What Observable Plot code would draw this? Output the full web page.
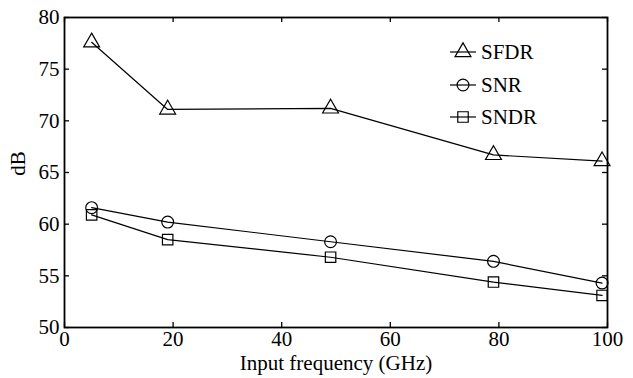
<!DOCTYPE html>
<html>
<head>
<meta charset="utf-8">
<script src="https://cdn.jsdelivr.net/npm/d3@7"></script>
<script src="https://cdn.jsdelivr.net/npm/@observablehq/plot@0.6"></script>
<style>
  html, body { margin: 0; padding: 0; background: #fff; font-family: "Liberation Serif", Tinos, "Times New Roman", FreeSerif, serif; }
  #wrap { position: relative; width: 633px; height: 378px; }
  #legend { position: absolute; left: 0; top: 0; }
</style>
</head>
<body>
<div id="wrap"></div>
<script>
const freq = [5, 19, 49, 79, 99];
const sfdr = [77.6, 71.1, 71.2, 66.7, 66.1];
const snr  = [61.6, 60.2, 58.3, 56.4, 54.3];
const sndr = [60.9, 58.5, 56.8, 54.4, 53.1];
const seriesNames = ["SFDR", "SNR", "SNDR"];
const seriesSymbols = ["triangle", "circle", "square"];
const xTicks = [0, 20, 40, 60, 80, 100];
const yTicks = [50, 55, 60, 65, 70, 75, 80];

const seriesValues = [sfdr, snr, sndr];
const rows = [];
seriesNames.forEach((name, i) => {
  freq.forEach((f, j) => rows.push({series: name, symbol: seriesSymbols[i], x: f, y: seriesValues[i][j]}));
});

const W = 633, H = 378;
const mT = 17, mB = 51, mL = 64, mR = 26;
const innerH = H - mT - mB, innerW = W - mL - mR;
const tickLen = 5;
const FONT = '"Liberation Serif", Tinos, "Times New Roman", FreeSerif, serif';
const FS = "21px";

const chart = Plot.plot({
  width: W, height: H,
  marginTop: mT, marginBottom: mB, marginLeft: mL, marginRight: mR,
  style: {color: "#000", background: "#fff"},
  x: {domain: [0, 100]},
  y: {domain: [50, 80]},
  marks: [
    Plot.axisX(xTicks, {tickSize: 0, tickPadding: 4, label: null}),
    Plot.axisY(yTicks, {tickSize: 0, tickPadding: 5, label: null}),
    Plot.tickX(xTicks, {x: d => d, insetTop: innerH - tickLen, stroke: "#000", strokeWidth: 1.3}),
    Plot.tickX(xTicks, {x: d => d, insetBottom: innerH - tickLen, stroke: "#000", strokeWidth: 1.3}),
    Plot.tickY(yTicks, {y: d => d, insetRight: innerW - tickLen, stroke: "#000", strokeWidth: 1.3}),
    Plot.tickY(yTicks, {y: d => d, insetLeft: innerW - tickLen, stroke: "#000", strokeWidth: 1.3}),
    Plot.line(rows, {x: "x", y: "y", z: "series", stroke: "#000", strokeWidth: 1.2}),
    Plot.dot(rows, {x: "x", y: "y", symbol: "symbol", r: 5.9, stroke: "#000", strokeWidth: 1.2, fill: "none"}),
    Plot.text(["Input frequency (GHz)"], {frameAnchor: "bottom", lineAnchor: "middle", textAnchor: "middle", dy: 36, fill: "#000"}),
    Plot.text(["dB"], {frameAnchor: "left", lineAnchor: "middle", textAnchor: "middle", dx: -46, dy: -9, rotate: -90, fill: "#000"}),
    Plot.frame({stroke: "#000", strokeWidth: 1.8})
  ]
});
chart.style.display = "block";
chart.setAttribute("font-family", FONT);
chart.setAttribute("font-size", FS);
d3.select(chart).selectAll("text").attr("font-family", FONT).style("font-family", FONT).style("font-size", FS);
document.getElementById("wrap").appendChild(chart);

// Legend overlay (top right inside plot)
const leg = d3.select("#wrap").append("svg")
  .attr("id", "legend").attr("width", W).attr("height", H)
  .style("pointer-events", "none");
const legRowY = [52, 85, 117];
const sym = d3.symbol().size(Math.PI * 5.9 * 5.9);
const symTypes = {triangle: d3.symbolTriangle, circle: d3.symbolCircle, square: d3.symbolSquare};
seriesNames.forEach((name, i) => {
  const g = leg.append("g").attr("transform", `translate(0,${legRowY[i]})`);
  g.append("line").attr("x1", 450).attr("x2", 476).attr("y1", 0).attr("y2", 0)
    .attr("stroke", "#000").attr("stroke-width", 1.2);
  g.append("path").attr("d", sym.type(symTypes[seriesSymbols[i]])())
    .attr("transform", "translate(463,0)")
    .attr("fill", "none").attr("stroke", "#000").attr("stroke-width", 1.2);
  g.append("text").attr("x", 481).attr("y", 0).attr("dy", "0.35em")
    .attr("font-family", FONT).style("font-family", FONT).style("font-size", FS).text(name);
});
</script>
</body>
</html>
